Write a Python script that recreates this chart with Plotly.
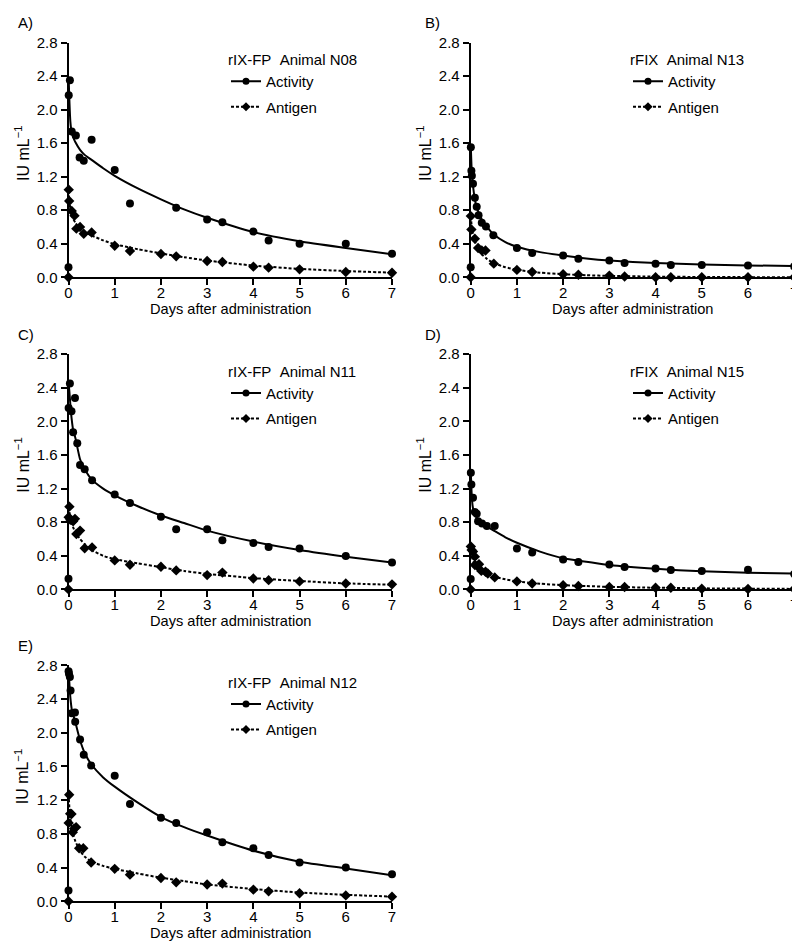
import plotly.graph_objects as go

W, H = 800, 943

# ---------------- data ----------------
panel_labels = ["A)", "B)", "C)", "D)", "E)"]
legend_titles = ["rIX-FP\u00a0\u00a0Animal N08", "rFIX\u00a0\u00a0Animal N13", "rIX-FP\u00a0\u00a0Animal N11",
                 "rFIX\u00a0\u00a0Animal N15", "rIX-FP\u00a0\u00a0Animal N12"]
series_names = ["Activity", "Antigen"]
x_title = "Days after administration"
y_title = "IU mL<sup>\u22121</sup>"
x_ticks = [0, 1, 2, 3, 4, 5, 6, 7]
y_ticks = [0.0, 0.4, 0.8, 1.2, 1.6, 2.0, 2.4, 2.8]

# measured points
act_t_A = [0, 0.005, 0.03, 0.07, 0.16, 0.24, 0.33, 0.5, 1, 1.33, 2.33, 3, 3.33, 4, 4.33, 5, 6, 7]
act_A = [0.12, 2.17, 2.35, 1.74, 1.69, 1.43, 1.39, 1.64, 1.28, 0.88, 0.83, 0.69, 0.655, 0.545, 0.44, 0.40, 0.40, 0.28]
ag_t_A = [0, 0.005, 0.015, 0.07, 0.13, 0.17, 0.25, 0.33, 0.5, 1, 1.33, 2, 2.33, 3, 3.33, 4, 4.33, 5, 6, 7]
ag_A = [0.0, 1.045, 0.91, 0.79, 0.735, 0.58, 0.60, 0.52, 0.535, 0.377, 0.314, 0.278, 0.25, 0.195, 0.183, 0.127, 0.115, 0.095, 0.064, 0.055]

act_t_B = [0, 0.003, 0.015, 0.025, 0.05, 0.09, 0.13, 0.17, 0.24, 0.33, 0.49, 1, 1.33, 2, 2.33, 3, 3.33, 4, 4.33, 5, 6, 7]
act_B = [0.12, 1.55, 1.27, 1.21, 1.115, 0.95, 0.84, 0.74, 0.65, 0.605, 0.50, 0.35, 0.29, 0.26, 0.22, 0.20, 0.17, 0.163, 0.147, 0.147, 0.14, 0.13]
ag_t_B = [0, 0.003, 0.015, 0.09, 0.16, 0.24, 0.32, 0.5, 1, 1.33, 2, 2.33, 3, 3.33, 4, 4.33, 5, 6, 7]
ag_B = [0.0, 0.73, 0.57, 0.46, 0.35, 0.32, 0.32, 0.163, 0.088, 0.064, 0.036, 0.03, 0.02, 0.01, 0.0, 0.0, 0.0, 0.0, 0.0]

act_t_C = [0, 0.003, 0.03, 0.065, 0.1, 0.14, 0.19, 0.25, 0.35, 0.51, 1, 1.33, 2, 2.33, 3, 3.33, 4, 4.33, 5, 6, 7]
act_C = [0.127, 2.16, 2.45, 2.12, 1.87, 2.28, 1.74, 1.48, 1.43, 1.30, 1.13, 1.03, 0.866, 0.715, 0.715, 0.584, 0.552, 0.504, 0.488, 0.397, 0.32]
ag_t_C = [0, 0.003, 0.02, 0.04, 0.1, 0.14, 0.17, 0.25, 0.35, 0.51, 1, 1.33, 2, 2.33, 3, 3.33, 4, 4.33, 5, 6, 7]
ag_C = [0.0, 0.86, 0.985, 0.83, 0.81, 0.84, 0.66, 0.70, 0.49, 0.50, 0.345, 0.294, 0.27, 0.226, 0.17, 0.20, 0.13, 0.11, 0.095, 0.07, 0.06]

act_t_D = [0, 0.003, 0.015, 0.05, 0.09, 0.13, 0.16, 0.245, 0.35, 0.52, 1, 1.33, 2, 2.33, 3, 3.33, 4, 4.33, 5, 6, 7]
act_D = [0.123, 1.39, 1.25, 1.09, 0.92, 0.90, 0.81, 0.785, 0.754, 0.754, 0.488, 0.44, 0.357, 0.325, 0.297, 0.266, 0.25, 0.23, 0.218, 0.234, 0.182]
ag_t_D = [0, 0.003, 0.02, 0.05, 0.09, 0.09, 0.14, 0.18, 0.23, 0.32, 0.37, 0.52, 1, 1.33, 2, 2.33, 3, 3.33, 4, 4.33, 5, 6, 7]
ag_D = [0.0, 0.51, 0.47, 0.45, 0.39, 0.29, 0.28, 0.30, 0.22, 0.21, 0.19, 0.143, 0.095, 0.07, 0.05, 0.04, 0.03, 0.028, 0.02, 0.02, 0.008, 0.004, 0.004]

act_t_E = [0, 0.002, 0.01, 0.03, 0.045, 0.07, 0.14, 0.145, 0.25, 0.33, 0.49, 1, 1.33, 2, 2.33, 3, 3.33, 4, 4.33, 5, 6, 7]
act_E = [0.127, 2.73, 2.70, 2.66, 2.50, 2.23, 2.24, 2.13, 1.92, 1.74, 1.61, 1.49, 1.155, 0.99, 0.93, 0.82, 0.70, 0.63, 0.55, 0.46, 0.40, 0.32]
ag_t_E = [0, 0.003, 0.015, 0.036, 0.065, 0.093, 0.12, 0.165, 0.23, 0.32, 0.49, 1, 1.33, 2, 2.33, 3, 3.33, 4, 4.33, 5, 6, 7]
ag_E = [0.0, 0.93, 1.265, 1.04, 1.035, 0.82, 0.86, 0.88, 0.63, 0.63, 0.46, 0.385, 0.316, 0.277, 0.225, 0.20, 0.21, 0.138, 0.118, 0.095, 0.07, 0.055]

# fitted curves, read at these times
fit_t = [0.003, 0.02, 0.04, 0.07, 0.1, 0.15, 0.25, 0.35, 0.5, 0.75, 1, 1.5, 2, 2.5, 3, 4, 5, 6, 7]
fit_act_A = [2.38, 2.10, 1.86, 1.72, 1.67, 1.61, 1.52, 1.46, 1.40, 1.30, 1.21, 1.06, 0.93, 0.81, 0.71, 0.54, 0.43, 0.35, 0.275]
fit_ag_A = [1.04, 0.90, 0.82, 0.75, 0.70, 0.65, 0.58, 0.54, 0.50, 0.44, 0.395, 0.335, 0.285, 0.24, 0.20, 0.14, 0.10, 0.075, 0.055]
fit_act_B = [1.55, 1.30, 1.15, 1.0, 0.90, 0.80, 0.68, 0.60, 0.51, 0.42, 0.365, 0.30, 0.26, 0.225, 0.20, 0.17, 0.152, 0.142, 0.133]
fit_ag_B = [0.73, 0.62, 0.54, 0.47, 0.42, 0.36, 0.27, 0.22, 0.17, 0.12, 0.09, 0.055, 0.037, 0.025, 0.017, 0.008, 0.004, 0.002, 0.001]
fit_act_C = [2.45, 2.35, 2.2, 2.02, 1.90, 1.80, 1.55, 1.43, 1.31, 1.20, 1.12, 0.99, 0.88, 0.79, 0.70, 0.57, 0.47, 0.39, 0.32]
fit_ag_C = [0.98, 0.92, 0.86, 0.79, 0.74, 0.68, 0.60, 0.54, 0.47, 0.40, 0.36, 0.31, 0.265, 0.22, 0.185, 0.135, 0.10, 0.072, 0.055]
fit_act_D = [1.39, 1.15, 1.0, 0.92, 0.88, 0.84, 0.79, 0.75, 0.70, 0.62, 0.555, 0.45, 0.37, 0.33, 0.29, 0.245, 0.215, 0.198, 0.19]
fit_ag_D = [0.51, 0.42, 0.36, 0.32, 0.30, 0.27, 0.22, 0.19, 0.155, 0.12, 0.095, 0.068, 0.05, 0.04, 0.03, 0.02, 0.013, 0.009, 0.006]
fit_act_E = [2.75, 2.58, 2.42, 2.28, 2.22, 2.12, 1.91, 1.76, 1.62, 1.47, 1.36, 1.17, 1.0, 0.88, 0.78, 0.60, 0.47, 0.39, 0.31]
fit_ag_E = [1.27, 1.10, 0.98, 0.87, 0.80, 0.71, 0.60, 0.53, 0.47, 0.42, 0.385, 0.33, 0.28, 0.24, 0.20, 0.145, 0.105, 0.077, 0.056]

panels = [
    (act_t_A, act_A, ag_t_A, ag_A, fit_act_A, fit_ag_A),
    (act_t_B, act_B, ag_t_B, ag_B, fit_act_B, fit_ag_B),
    (act_t_C, act_C, ag_t_C, ag_C, fit_act_C, fit_ag_C),
    (act_t_D, act_D, ag_t_D, ag_D, fit_act_D, fit_ag_D),
    (act_t_E, act_E, ag_t_E, ag_E, fit_act_E, fit_ag_E),
]

# ---------------- layout geometry (pixels) ----------------
col_x = [(60.5, 384.0), (462.7, 786.2)]
row_y = [(34.5, 269.3), (346.2, 581.4), (657.3, 893.3)]
cells = [(0, 0), (1, 0), (0, 1), (1, 1), (0, 2)]
label_x = [8, 415]
ytitle_x = [14, 416]
legend_x = [218, 620]

FONT = "Liberation Sans, Arial, Helvetica, sans-serif"
BLACK = "#000000"

def px_x(p):
    return p / W

def px_y(p):
    return 1 - p / H

fig = go.Figure()
layout = dict(
    width=W, height=H,
    margin=dict(l=0, r=0, t=0, b=0),
    paper_bgcolor="white", plot_bgcolor="white",
    font=dict(family=FONT, color=BLACK, size=14),
    showlegend=True,
)
annotations = []

for i, (at, av, gt, gv, fa, fg) in enumerate(panels):
    c, r = cells[i]
    xa = "x" if i == 0 else f"x{i+1}"
    ya = "y" if i == 0 else f"y{i+1}"
    leg = "legend" if i == 0 else f"legend{i+1}"
    x0, x1 = col_x[c]
    y0, y1 = row_y[r]

    layout["xaxis" if i == 0 else f"xaxis{i+1}"] = dict(
        domain=[px_x(x0), px_x(x1)], anchor=ya, range=[0, 7],
        tickvals=x_ticks, ticks="outside", ticklen=6, tickwidth=1.5, tickcolor=BLACK,
        ticklabelstandoff=-5,
        showline=True, linewidth=2, linecolor=BLACK, showgrid=False, zeroline=False,
        tickfont=dict(size=15, family=FONT), automargin=False,
    )
    layout["yaxis" if i == 0 else f"yaxis{i+1}"] = dict(
        domain=[px_y(y1), px_y(y0)], anchor=xa, range=[0, 2.8],
        tickvals=y_ticks, tickformat=".1f", ticks="outside", ticklen=6, tickwidth=1.5, tickcolor=BLACK,
        showline=True, linewidth=2, linecolor=BLACK, showgrid=False, zeroline=False,
        tickfont=dict(size=15, family=FONT), automargin=False,
    )

    # fitted curves
    fig.add_trace(go.Scatter(x=fit_t, y=fa, mode="lines", line=dict(color=BLACK, width=2, shape="spline", smoothing=0.6),
                             xaxis=xa, yaxis=ya, showlegend=False, hoverinfo="skip"))
    fig.add_trace(go.Scatter(x=fit_t, y=fg, mode="lines", line=dict(color=BLACK, width=2, dash="3px,2px", shape="spline", smoothing=0.6),
                             xaxis=xa, yaxis=ya, showlegend=False, hoverinfo="skip"))
    # measured points
    fig.add_trace(go.Scatter(x=at, y=av, mode="markers", marker=dict(symbol="circle", size=8, color=BLACK),
                             xaxis=xa, yaxis=ya, showlegend=False, cliponaxis=False, name=series_names[0]))
    fig.add_trace(go.Scatter(x=gt, y=gv, mode="markers", marker=dict(symbol="diamond", size=8, color=BLACK),
                             xaxis=xa, yaxis=ya, showlegend=False, cliponaxis=False, name=series_names[1]))
    # legend entries
    fig.add_trace(go.Scatter(x=[None], y=[None], mode="lines+markers", name=series_names[0],
                             line=dict(color=BLACK, width=2), marker=dict(symbol="circle", size=7, color=BLACK),
                             xaxis=xa, yaxis=ya, legend=leg, legendgroup=f"a{i}"))
    fig.add_trace(go.Scatter(x=[None], y=[None], mode="lines+markers", name=series_names[1],
                             line=dict(color=BLACK, width=2, dash="3px,2px"), marker=dict(symbol="diamond", size=7, color=BLACK),
                             xaxis=xa, yaxis=ya, legend=leg, legendgroup=f"b{i}"))

    layout[leg] = dict(
        x=px_x(legend_x[c]), y=px_y(y0 + 3), xanchor="left", yanchor="top",
        bgcolor="rgba(0,0,0,0)", borderwidth=0,
        title=dict(text=legend_titles[i], font=dict(size=15, family=FONT)),
        font=dict(size=15, family=FONT), tracegroupgap=3, itemclick=False, itemdoubleclick=False,
    )

    # panel letter
    annotations.append(dict(text=panel_labels[i], x=px_x(label_x[c]), y=px_y(y0 - 20), xref="paper", yref="paper",
                            xanchor="left", yanchor="middle", showarrow=False, font=dict(size=15, family=FONT)))
    # axis titles
    annotations.append(dict(text=x_title, x=px_x((x0 + x1) / 2), y=px_y(y1 + 32), xref="paper", yref="paper",
                            xanchor="center", yanchor="middle", showarrow=False, font=dict(size=14.6, family=FONT)))
    annotations.append(dict(text=y_title, x=px_x(ytitle_x[c]), y=px_y((y0 + y1) / 2 - 6), xref="paper", yref="paper",
                            xanchor="center", yanchor="middle", textangle=-90, showarrow=False,
                            font=dict(size=16, family=FONT)))

layout["annotations"] = annotations
fig.update_layout(**layout)
fig.write_html("out.html")
